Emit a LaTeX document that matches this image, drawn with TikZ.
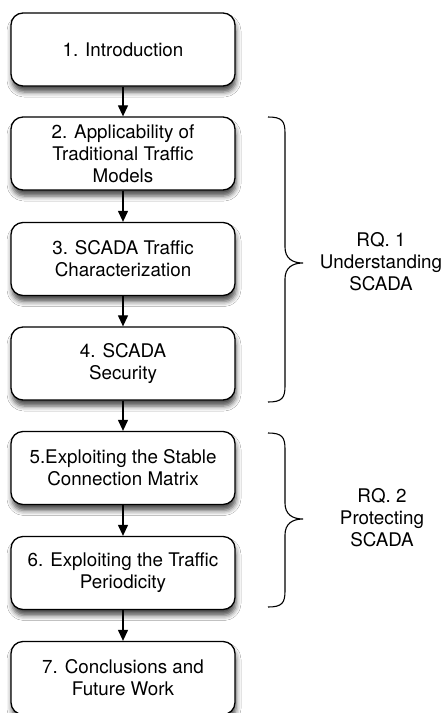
\documentclass[tikz,border=0pt]{standalone}
\usepackage{fontspec}
\setmainfont{TeX Gyre Heros}
\usetikzlibrary{arrows.meta,shadows.blur}
\tikzset{
  chapter/.style={draw=black, line width=1.3pt, rounded corners=12pt, fill=white,
    minimum width=224pt, minimum height=73pt, align=center, inner sep=0pt,
    font=\fontsize{18.8}{22}\selectfont,
    blur shadow={shadow xshift=1pt, shadow yshift=-6pt, shadow blur radius=5pt, shadow opacity=70}},
  flow/.style={line width=1.2pt, -{Triangle[length=11pt,width=10pt]}},
  brace/.style={line width=1.1pt},
  rqlabel/.style={align=center, font=\fontsize{18.8}{22}\selectfont, inner sep=0pt}
}
\begin{document}
\begin{tikzpicture}[x=1pt,y=-1pt]
\useasboundingbox (0,0) rectangle (447,713);
\fill[white] (0,0) rectangle (447,713);
\node[chapter] (c1) at (123,49.5) {1. Introduction};
\node[chapter] (c2) at (123,153.5) {2. Applicability of\\Traditional Traffic\\Models};
\node[chapter] (c3) at (123,259) {3. SCADA Traffic\\Characterization};
\node[chapter] (c4) at (123,363.5) {4. SCADA\\Security};
\node[chapter] (c5) at (123,468) {5.Exploiting the Stable\\Connection Matrix};
\node[chapter] (c6) at (123,573) {6. Exploiting the Traffic\\Periodicity};
\node[chapter] (c7) at (123,678) {7. Conclusions and\\Future Work};
\draw[flow] (c1) -- (c2);
\draw[flow] (c2) -- (c3);
\draw[flow] (c3) -- (c4);
\draw[flow] (c4) -- (c5);
\draw[flow] (c5) -- (c6);
\draw[flow] (c6) -- (c7);
% braces
\coordinate (b1top) at (268,117);
\coordinate (b1tip) at (303,263);
\coordinate (b1bot) at (268,402);
\draw[brace] (b1top) .. controls (282,117) and (285,121) .. (285,133)
  -- (285,247) .. controls (285,258) and (292,263) .. (b1tip)
  .. controls (292,263) and (285,268) .. (285,279)
  -- (285,386) .. controls (285,398) and (282,402) .. (b1bot);
\coordinate (b2top) at (268,433);
\coordinate (b2tip) at (303,519);
\coordinate (b2bot) at (268,607);
\draw[brace] (b2top) .. controls (282,433) and (285,437) .. (285,449)
  -- (285,503) .. controls (285,514) and (292,519) .. (b2tip)
  .. controls (292,519) and (285,524) .. (285,535)
  -- (285,591) .. controls (285,603) and (282,607) .. (b2bot);
\node[rqlabel] (rq1) at (381,262) {RQ. 1\\Understanding\\SCADA};
\node[rqlabel] (rq2) at (382,518) {RQ. 2\\Protecting\\SCADA};
\end{tikzpicture}
\end{document}
